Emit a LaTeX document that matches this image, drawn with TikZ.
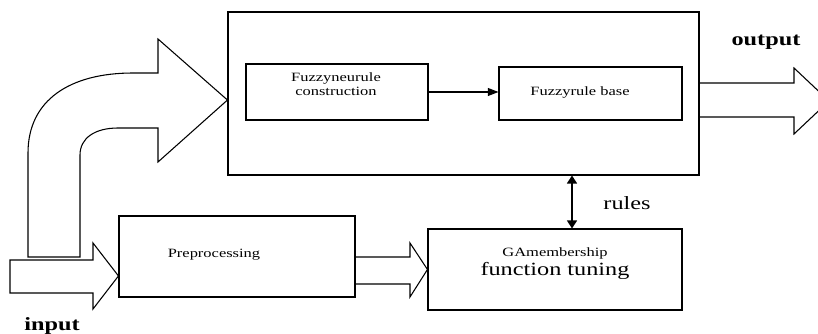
\documentclass[tikz,border=0pt]{standalone}
\usepackage{fontspec}
\setmainfont[FakeStretch=1.3]{Liberation Serif}
\usetikzlibrary{arrows.meta, positioning}

\begin{document}
\begin{tikzpicture}[
    x=0.75pt, y=-0.75pt,
    box/.style={rectangle, draw, line width=0.8pt, inner sep=0pt},
    small/.style={font=\fontsize{9.5}{10.5}\selectfont, align=center, inner sep=1pt},
    big/.style={font=\fontsize{14}{16}\selectfont, inner sep=1pt},
    bold/.style={font=\fontsize{14}{16}\selectfont\bfseries, inner sep=1pt},
    fat/.style={draw, line width=0.8pt, line join=miter},
    arrow/.style={-{Triangle[length=8pt,width=6pt]}, line width=0.8pt},
    biarrow/.style={{Triangle[length=6pt,width=7.5pt]}-{Triangle[length=6pt,width=7.5pt]}, line width=1pt}
]

\useasboundingbox (0,0) rectangle (818,334);
\clip (0,0) rectangle (818,334);

% Main blocks
\node [box, minimum width=353.25pt, minimum height=122.25pt] (main) at (463.5,93.5) {};
\node [box, minimum width=136.5pt, minimum height=42pt] (construct) at (337,92) {};
\node [box, minimum width=137.25pt, minimum height=39.75pt] (rulebase) at (590.5,93.5) {};
\node [box, minimum width=177pt, minimum height=60.75pt] (prep) at (237,256.5) {};
\node [box, minimum width=190.5pt, minimum height=60.75pt] (tuning) at (555,269.5) {};

% Block texts
\node [small] (constructtext) at (336,84) {Fuzzyneurule\\construction};
\node [small] (rulebasetext) at (580,92) {Fuzzyrule base};
\node [small] (preptext) at (214,255) {Preprocessing};
\node [small] (tuningtext) at (555,264) {GAmembership\\[1.5pt]{\fontsize{14}{16}\selectfont function tuning}};

% Labels
\node [bold] (inputlabel) at (52,326) {input};
\node [bold] (outputlabel) at (766,42) {output};
\node [big] (ruleslabel) at (627,203) {rules};

% Tips of the hollow arrows
\coordinate (intip) at ([yshift=-14.6pt]prep.west);
\coordinate (maintip) at ([yshift=-4.9pt]main.west);

% Hollow arrows
\draw [fat] (10,260) -- (93,260) -- (93,243) -- (intip) -- (93,309) -- (93,293) -- (10,293) -- cycle;
\draw [fat] (28,257) -- (28,153) .. controls (28,100) and (70,73) .. (133,73) -- (158,73) -- (158,39) -- (maintip)
    -- (158,162) -- (158,128) -- (118,128) .. controls (95,128) and (80,138) .. (80,155) -- (80,257) -- cycle;
\draw [fat] (355,257) -- (410,257) -- (410,243) -- (tuning.west) -- (410,297) -- (410,284) -- (355,284);
\draw [fat] (699,83) -- (794,83) -- (794,68) -- (829,101) -- (794,134) -- (794,117) -- (699,117);

% Connectors
\draw [arrow] (construct.east) -- (construct.east -| rulebase.west);
\coordinate (rulesx) at ([xshift=12.75pt]tuning.north);
\draw [biarrow] (rulesx |- main.south) -- (rulesx);

\end{tikzpicture}
\end{document}
